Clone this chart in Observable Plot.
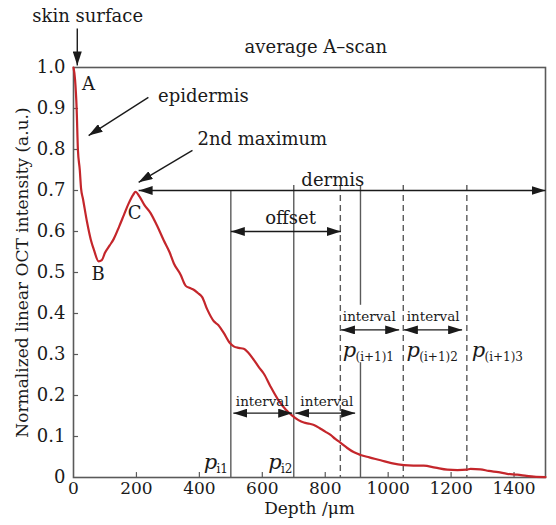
<!DOCTYPE html>
<html><head><meta charset="utf-8">
<script src="https://cdn.jsdelivr.net/npm/d3@7"></script>
<script src="https://cdn.jsdelivr.net/npm/@observablehq/plot@0.6"></script>
<style>body{margin:0;background:#fff}</style>
</head><body><div id="chart"></div>
<script>
// ---- data ----
const depth = [0,5,10,14,20,24,30,43,55,65,80,90,100,115,128,145,160,175,190,197,210,225,245,265,287,305,319,340,356,370,382,395,409,425,446,460,478,495,509,525,541,555,573,590,605,626,650,675,695,715,732,750,764,785,800,817,832,848,870,890,912,940,976,1010,1050,1080,1113,1150,1188,1220,1250,1262,1293,1320,1350,1378,1410,1440,1463,1500];
const intensity = [1.0,0.97,0.90,0.80,0.75,0.705,0.68,0.623,0.58,0.555,0.527,0.53,0.548,0.566,0.582,0.612,0.64,0.668,0.69,0.697,0.685,0.665,0.645,0.615,0.578,0.55,0.522,0.495,0.468,0.462,0.458,0.45,0.44,0.41,0.381,0.372,0.352,0.33,0.32,0.316,0.314,0.305,0.287,0.268,0.253,0.222,0.19,0.165,0.151,0.14,0.134,0.131,0.128,0.119,0.112,0.104,0.094,0.085,0.072,0.062,0.055,0.049,0.042,0.035,0.03,0.029,0.029,0.024,0.019,0.018,0.019,0.021,0.02,0.016,0.013,0.009,0.007,0.004,0.002,0.001];
const xTicks = [0,200,400,600,800,1000,1200,1400];
const yTicks = [0,0.1,0.2,0.3,0.4,0.5,0.6,0.7,0.8,0.9,1.0];

// annotation geometry (data units)
const doubleArrows = [
  {x1:207, x2:1500, y:0.7},
  {x1:500, x2:850, y:0.6},
  {x1:508, x2:695, y:0.157},
  {x1:705, x2:895, y:0.157},
  {x1:850, x2:1035, y:0.36},
  {x1:1050, x2:1235, y:0.36}
];
const singleArrows = [
  {x1:12, y1:1.095, x2:12, y2:1.005},
  {x1:238, y1:0.927, x2:48, y2:0.834},
  {x1:378, y1:0.798, x2:207, y2:0.72}
];
const solidLines = [
  {x:500, y1:0.7, y2:0},
  {x:700, y1:0.712, y2:0},
  {x:912, y1:0.712, y2:0.42},
  {x:912, y1:0.28, y2:0}
];
const dashedLines = [848, 1048, 1250];
const labels = [
  {x:48, y:0.96, t:"A"},
  {x:78, y:0.495, t:"B"},
  {x:194, y:0.645, t:"C"},
  {x:413, y:0.93, t:"epidermis"},
  {x:600, y:0.826, t:"2nd maximum"},
  {x:824, y:0.725, t:"dermis"},
  {x:690, y:0.632, t:"offset"},
  {x:770, y:1.05, t:"average A\u2013scan"},
  {x:45, y:1.124, t:"skin surface"}
];
const intervalLabels = [
  {x:600, y:0.186}, {x:805, y:0.186}, {x:940, y:0.393}, {x:1143, y:0.393}
];
const pLabels = [
  {x:435, y:0.037, sub:"i1"},
  {x:640, y:0.037, sub:"i2"},
  {x:877, y:0.31, sub:"(i+1)1"},
  {x:1080, y:0.31, sub:"(i+1)2"},
  {x:1287, y:0.31, sub:"(i+1)3"}
];

const curve = depth.map((d, i) => ({x: d, y: intensity[i]}));

const head = (color) => {
  const ns = "http://www.w3.org/2000/svg";
  const m = document.createElementNS(ns, "marker");
  m.setAttribute("viewBox", "-14 -4.5 14 9");
  m.setAttribute("markerWidth", 14);
  m.setAttribute("markerHeight", 9);
  m.setAttribute("refX", 0);
  m.setAttribute("refY", 0);
  m.setAttribute("markerUnits", "userSpaceOnUse");
  m.setAttribute("orient", "auto-start-reverse");
  const p = document.createElementNS(ns, "path");
  p.setAttribute("d", "M-14,-4.5L0,0L-14,4.5Z");
  p.setAttribute("fill", color);
  p.setAttribute("stroke", "none");
  m.appendChild(p);
  return m;
};

const ink = "#1a1a1a";
const gray = "#5a5a5a";
const font = "DejaVu Serif";

const chart = Plot.plot({
  width: 556, height: 525,
  marginLeft: 73, marginRight: 11, marginTop: 67, marginBottom: 48,
  style: {fontFamily: font, background: "#fff", color: ink},
  x: {domain: [0, 1500]},
  y: {domain: [0, 1]},
  marks: [
    Plot.frame({stroke: gray, strokeWidth: 1.6}),
    Plot.axisX(xTicks, {tickSize: 0, tickPadding: 4, fontSize: 17, label: null, fill: ink, tickFormat: d => String(d)}),
    Plot.axisY(yTicks, {tickSize: 0, tickPadding: 8, fontSize: 18, label: null, fill: ink,
      tickFormat: d => d === 0 ? "0" : d.toFixed(1)}),
    Plot.ruleX(xTicks.slice(1), {x: d => d, y1: 0, y2: 0.012, stroke: gray, strokeWidth: 1.2}),
    Plot.ruleY(yTicks.slice(1, -1), {y: d => d, x1: 0, x2: 16, stroke: gray, strokeWidth: 1.2}),
    Plot.text(["Normalized linear OCT intensity (a.u.)"], {frameAnchor: "left", textAnchor: "middle", dx: -51, rotate: -90, fontSize: 17, fill: ink}),
    Plot.text(["Depth /\u03bcm"], {frameAnchor: "bottom", textAnchor: "middle", dy: 36, fontSize: 17, fill: ink}),
    Plot.ruleX(solidLines, {x: "x", y1: "y1", y2: "y2", stroke: gray, strokeWidth: 1.4}),
    Plot.ruleX(dashedLines, {x: d => d, y1: 0.712, y2: 0, stroke: gray, strokeWidth: 1.4, strokeDasharray: "6,4"}),
    Plot.line(curve, {x: "x", y: "y", stroke: "#c4262b", strokeWidth: 2.2, curve: "monotone-x"}),
    Plot.link(doubleArrows, {x1: "x1", x2: "x2", y1: "y", y2: "y", stroke: ink, strokeWidth: 1.4, markerStart: head, markerEnd: head}),
    Plot.link(singleArrows, {x1: "x1", y1: "y1", x2: "x2", y2: "y2", stroke: ink, strokeWidth: 1.4, markerEnd: head}),
    Plot.text(labels, {x: "x", y: "y", text: "t", fontSize: 18, fill: ink}),
    Plot.text(intervalLabels, {x: "x", y: "y", text: () => "interval", fontSize: 13.5, fill: ink}),
    Plot.text(pLabels, {x: "x", y: "y", text: () => "p", fontSize: 21, fontStyle: "italic", fill: ink}),
    Plot.text(pLabels, {x: "x", y: "y", text: "sub", fontSize: 12, fill: ink, textAnchor: "start", dx: 6, dy: 7})
  ]
});
document.getElementById("chart").appendChild(chart);
</script>
</body></html>
